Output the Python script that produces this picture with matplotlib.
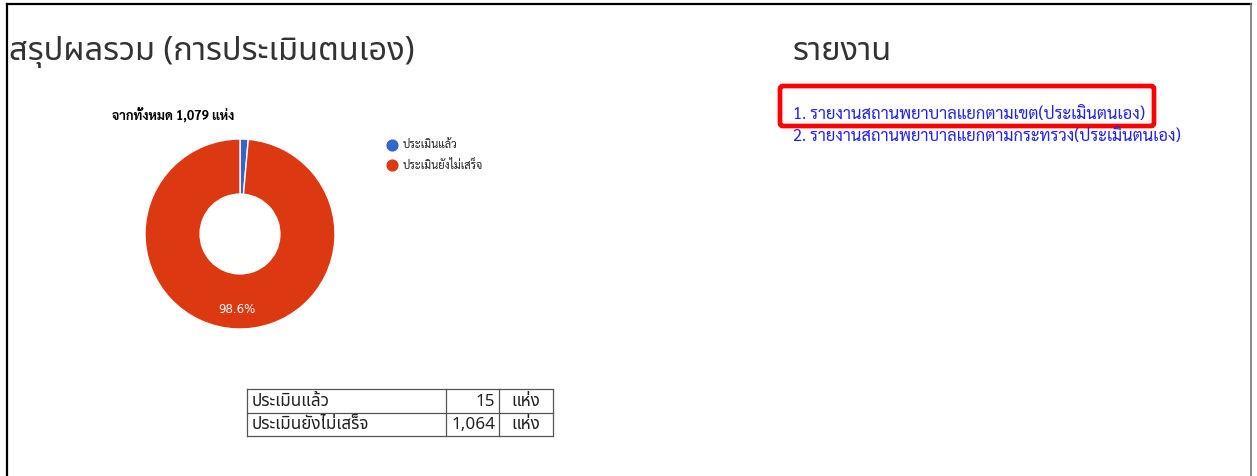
import matplotlib
matplotlib.use("Agg")
import matplotlib.pyplot as plt
from matplotlib.patches import FancyBboxPatch

# data
status_labels = ["ประเมินแล้ว", "ประเมินยังไม่เสร็จ"]
status_counts = [15, 1064]
status_colors = ["#3366cc", "#dc3912"]
unit = "แห่ง"
page_title = "สรุปผลรวม (การประเมินตนเอง)"
report_title = "รายงาน"
report_links = [
    "1. รายงานสถานพยาบาลแยกตามเขต(ประเมินตนเอง)",
    "2. รายงานสถานพยาบาลแยกตามกระทรวง(ประเมินตนเอง)",
]

thai = ["Noto Sans Thai", "DejaVu Sans"]
thai_loop = ["Sarabun", "Noto Sans Thai", "DejaVu Sans"]
plt.rcParams["font.family"] = thai

W, H = 1257, 477
fig = plt.figure(figsize=(W / 100, H / 100), dpi=100)

# overlay in pixel coords (y down)
ov = fig.add_axes([0, 0, 1, 1])
ov.set_xlim(0, W)
ov.set_ylim(H, 0)
ov.axis("off")

# page frame
ov.plot([7, 1251], [5, 5], color="black", lw=1.6)
ov.plot([7, 7], [5, H], color="black", lw=1.6)
ov.plot([1251, 1251], [5, H], color="#777777", lw=1.2)

ov.text(9, 51, page_title, fontsize=23.5, color="#333333", va="center", ha="left")
ov.text(793, 51, report_title, fontsize=23.5, color="#333333", va="center", ha="left")

# report links
for i, link in enumerate(report_links):
    ov.text(793, 115 + i * 22, link, fontsize=11.9, color="#2222ee",
            va="center", ha="left", family=thai_loop)
ov.add_patch(FancyBboxPatch((780, 87), 374, 40, boxstyle="round,pad=0,rounding_size=3",
                            fill=False, edgecolor="#ff0000", lw=3.4))

# donut chart
total = sum(status_counts)
ov.text(112, 115, f"จากทั้งหมด {total:,} {unit}", fontsize=9.3, fontweight="bold",
        color="#000000", va="center", ha="left", family=thai_loop)

pie_ax = fig.add_axes([145 / W, (H - 330) / H, 190 / W, 190 / H])
pie_ax.pie(status_counts, colors=status_colors, startangle=90, counterclock=False,
           radius=1, wedgeprops=dict(width=0.58, edgecolor="white", linewidth=1),
           autopct=lambda p: f"{p:.1f}%" if p > 5 else "", pctdistance=0.79,
           textprops=dict(color="white", fontsize=8.5, family="DejaVu Sans"))
pie_ax.set_xlim(-1, 1)
pie_ax.set_ylim(-1, 1)
pie_ax.set_aspect("equal")

# legend
for i, (lab, col) in enumerate(zip(status_labels, status_colors)):
    y = 146 + i * 19.5
    ov.scatter([392], [y], s=60, color=col, zorder=3)
    ov.text(403, y, lab, fontsize=8, color="#222222", va="center", ha="left",
            family=thai_loop)

# summary table
x0, x1, x2, x3 = 247, 446, 499, 553
ytop, row_h = 390, 23.5
nrows = len(status_labels)
for r in range(nrows + 1):
    y = ytop + r * row_h
    ov.plot([x0, x3], [y, y], color="#555555", lw=0.9)
for x in (x0, x1, x2, x3):
    ov.plot([x, x], [ytop, ytop + nrows * row_h], color="#555555", lw=0.9)
for r, (lab, cnt) in enumerate(zip(status_labels, status_counts)):
    yc = ytop + (r + 0.5) * row_h
    ov.text(x0 + 5, yc, lab, fontsize=12.3, color="#222222", va="center", ha="left")
    ov.text(x2 - 4, yc, f"{cnt:,}", fontsize=12.3, color="#222222", va="center", ha="right")
    ov.text((x2 + x3) / 2, yc, unit, fontsize=12.3, color="#222222", va="center", ha="center")

fig.savefig("out.png", dpi=100, facecolor="white")
